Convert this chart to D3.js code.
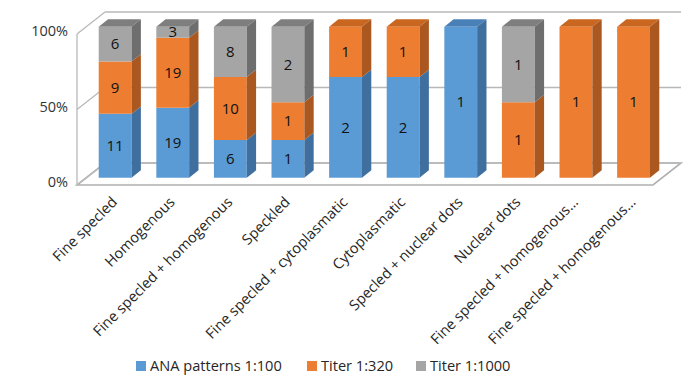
<!DOCTYPE html>
<html>
<head>
<meta charset="utf-8">
<script src="https://cdn.jsdelivr.net/npm/d3@7"></script>
<style>
  html, body { margin: 0; padding: 0; background: #fff; }
  svg { display: block; font-family: "Open Sans", "Liberation Sans", sans-serif; }
</style>
</head>
<body>
<svg id="chart" width="699" height="376"></svg>
<script>
// ANA pattern counts per titer, shown as 100% stacked 3D columns
const categories = [
  "Fine specled", "Homogenous", "Fine specled + homogenous", "Speckled",
  "Fine specled + cytoplasmatic", "Cytoplasmatic", "Specled + nuclear dots",
  "Nuclear dots", "Fine specled + homogenous…", "Fine specled + homogenous…"
];
const ana100   = [11, 19, 6, 1, 2, 2, 1, 0, 0, 0];
const titer320 = [9, 19, 10, 1, 1, 1, 0, 1, 1, 1];
const titer1000 = [6, 3, 8, 2, 0, 0, 0, 1, 0, 0];
const seriesNames = ["ANA patterns 1:100", "Titer 1:320", "Titer 1:1000"];
const tickValues = [0, 0.5, 1];
const tickLabels = ["0%", "50%", "100%"];

const colors = [
  { front: "#5B9BD5", side: "#3F6F9E", top: "#4A80B8" },
  { front: "#ED7D31", side: "#AA5820", top: "#C9661F" },
  { front: "#A5A5A5", side: "#6E6E6E", top: "#7E7E7E" }
];

const svg = d3.select("#chart");

// oblique projection: depth z in [0,1] shifts right and up
const DX = 28, DY = -22;
const x = d3.scaleBand().domain(d3.range(categories.length))
  .range([77, 653]).paddingInner(0.43).paddingOuter(0.215);
const y = d3.scaleLinear().domain([0, 1]).range([185, 34]);
const P = (xf, v, z) => [xf + DX * z, y(v) + DY * z];
const zF = 1 / 3, zB = 2 / 3;

const grid = "#B8B8B8";

// floor
const floor = [P(77, 0, 0), P(653, 0, 0), P(653, 0, 1), P(77, 0, 1)];
svg.append("polygon").attr("points", floor.map(p => p.join(",")).join(" "))
  .attr("fill", "#fff").attr("stroke", "#B0B0B0").attr("stroke-width", 1.6);

// back wall gridlines and left wall diagonals
tickValues.forEach(v => {
  const a = P(77, v, 1), b = P(653, v, 1);
  svg.append("line").attr("x1", a[0]).attr("y1", a[1]).attr("x2", b[0]).attr("y2", b[1])
    .attr("stroke", grid).attr("stroke-width", 1.3);
  const c = P(77, v, 0);
  svg.append("line").attr("x1", c[0]).attr("y1", c[1]).attr("x2", a[0]).attr("y2", a[1])
    .attr("stroke", grid).attr("stroke-width", 1.3);
});
const e0 = P(77, 0, 0), e1 = P(77, 1, 0);
svg.append("line").attr("x1", e0[0]).attr("y1", e0[1]).attr("x2", e1[0]).attr("y2", e1[1])
  .attr("stroke", grid).attr("stroke-width", 1.3);

// y tick labels
svg.append("g").selectAll("text").data(tickValues).join("text")
  .attr("x", 68).attr("y", v => y(v) - 3).attr("dy", "0.35em")
  .attr("text-anchor", "end").attr("font-size", 14.5).attr("fill", "#333")
  .text((v, i) => tickLabels[i]);

// columns
const poly = pts => pts.map(p => p.join(",")).join(" ");
const series = [ana100, titer320, titer1000];
const bars = svg.append("g");
categories.forEach((cat, i) => {
  const vals = series.map(s => s[i]);
  const total = d3.sum(vals);
  const x0 = x(i), x1 = x(i) + x.bandwidth();
  let cum = 0;
  let lastTop = null;
  vals.forEach((v, k) => {
    if (!v) return;
    const lo = cum / total, hi = (cum + v) / total;
    cum += v;
    const c = colors[k];
    // front face
    bars.append("polygon")
      .attr("points", poly([P(x0, lo, zF), P(x1, lo, zF), P(x1, hi, zF), P(x0, hi, zF)]))
      .attr("fill", c.front);
    // side face
    bars.append("polygon")
      .attr("points", poly([P(x1, lo, zF), P(x1, lo, zB), P(x1, hi, zB), P(x1, hi, zF)]))
      .attr("fill", c.side);
    lastTop = { hi, c };
    const mid = P((x0 + x1) / 2, (lo + hi) / 2, zF);
    bars.append("text").attr("x", mid[0]).attr("y", mid[1]).attr("dy", "0.35em")
      .attr("text-anchor", "middle").attr("font-size", 15).attr("fill", "#111")
      .text(v);
  });
  if (lastTop) {
    bars.insert("polygon", "text")
      .attr("points", poly([P(x0, 1, zF), P(x1, 1, zF), P(x1, 1, zB), P(x0, 1, zB)]))
      .attr("fill", lastTop.c.top);
  }
});

// category labels, rotated
svg.append("g").selectAll("text").data(categories).join("text")
  .attr("transform", (d, i) => {
    const p = P(x(i) + x.bandwidth() / 2, 0, zF);
    return `translate(${p[0] + 3},${203}) rotate(-45)`;
  })
  .attr("text-anchor", "end").attr("font-size", 14.6).attr("fill", "#262626")
  .text(d => d);

// legend
const legendX = [136, 307, 416];
const lg = svg.append("g");
seriesNames.forEach((name, k) => {
  lg.append("rect").attr("x", legendX[k]).attr("y", 361).attr("width", 10).attr("height", 10)
    .attr("fill", colors[k].front);
  lg.append("text").attr("x", legendX[k] + 14).attr("y", 371)
    .attr("font-size", 14.6).attr("fill", "#262626").text(name);
});
</script>
</body>
</html>
